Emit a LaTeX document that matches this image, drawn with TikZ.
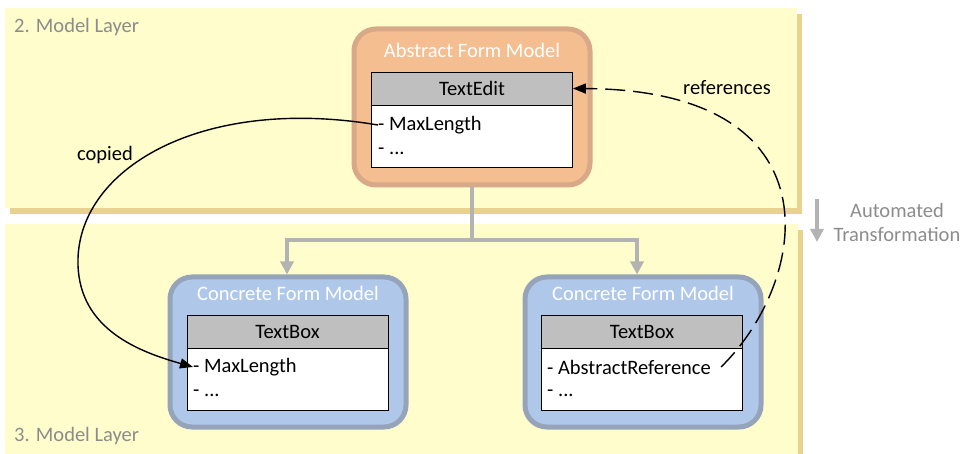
\documentclass[tikz,border=0pt]{standalone}
\usepackage{fontspec}
\setmainfont{Carlito}
\usetikzlibrary{arrows.meta}
\definecolor{bandyellow}{HTML}{FFFDCC}
\definecolor{bandtan}{HTML}{E8D28E}
\definecolor{orfill}{HTML}{F4BE91}
\definecolor{ordraw}{HTML}{D8A988}
\definecolor{blfill}{HTML}{AFC8EA}
\definecolor{bldraw}{HTML}{95A4BA}
\definecolor{hdgray}{HTML}{BFBFBF}
\definecolor{arrgray}{HTML}{B3B3B3}
\definecolor{txtgray}{HTML}{8C8C8C}
\tikzset{
  every node/.style={font=\fontsize{20.5}{24}\selectfont, inner sep=0pt},
  modelbox/.style={rounded corners=22pt, line width=5pt, minimum width=236pt, minimum height=156pt},
  absbox/.style={modelbox, fill=orfill, draw=ordraw},
  conbox/.style={modelbox, fill=blfill, draw=bldraw, minimum height=150pt},
  title/.style={text=white},
  header/.style={draw=black, line width=0.8pt, fill=hdgray, minimum width=201pt, minimum height=33pt},
  body/.style={draw=black, line width=0.8pt, fill=white, minimum width=201pt, minimum height=62pt},
  attr/.style={anchor=west, text=black},
  grayarrow/.style={draw=arrgray, line width=4.5pt, -{Triangle[length=13pt,width=13pt]}},
  grayline/.style={draw=arrgray, line width=4.5pt},
  blackarrow/.style={draw=black, line width=1.4pt, -{Triangle[length=13pt,width=10pt]}},
  layerlabel/.style={text=txtgray, anchor=west}
}
\begin{document}
\begin{tikzpicture}[x=1pt,y=-1pt]
\useasboundingbox (0,0) rectangle (967,454);
% layer bands
\fill[bandtan] (10,14) rectangle (802,214);
\fill[bandyellow] (5,8) rectangle (797,208);
\fill[bandtan] (10,230) rectangle (803,460);
\fill[bandyellow] (5,224) rectangle (798,460);
\node[layerlabel] (l2) at (14,27) {2. Model Layer};
\node[layerlabel] (l3) at (14,436) {3. Model Layer};

% abstract model
\node[absbox] (absm) at (472,107) {};
\node[title] (abst) at (472,50) {Abstract Form Model};
\node[header] (abshead) at (472,88.5) {TextEdit};
\node[body] (absbody) at (472,136) {};
\node[attr] (absml) at (378,125) {- MaxLength};
\node[attr] (absdots) at (378,151) {- ...};

% concrete left
\node[conbox] (lcm) at (288,352) {};
\node[title] (lct) at (288,293) {Concrete Form Model};
\node[header] (lhead) at (287.5,331.5) {TextBox};
\node[body] (lbody) at (287.5,379) {};
\node[attr] (lml) at (193,367) {- MaxLength};
\node[attr] (ldots) at (193,393) {- ...};

% concrete right
\node[conbox] (rcm) at (643,352) {};
\node[title] (rct) at (643,293) {Concrete Form Model};
\node[header] (rhead) at (642,331.5) {TextBox};
\node[body] (rbody) at (642,379) {};
\node[attr] (rar) at (547,367) {- AbstractReference};
\node[attr] (rdots) at (547,393) {- ...};

% transformation connectors
\coordinate (junc) at (472,240);
\coordinate (jl) at (287,240);
\coordinate (jr) at (637,240);
\draw[grayline] (absm.south) -- (junc);
\draw[grayline, line cap=rect] (jl) -- (jr);
\draw[grayarrow] (jl) -- (jl |- lcm.north);
\draw[grayarrow] (jr) -- (jr |- rcm.north);

% automated transformation
\coordinate (ata) at (817,199);
\coordinate (atb) at (817,242);
\draw[grayarrow] (ata) -- (atb);
\node[text=txtgray] (at1) at (897,210) {Automated};
\node[text=txtgray] (at2) at (897,234) {Transformation};

% copied
\draw[blackarrow] (absml.west) .. controls (200,95) and (75,170) .. (78,265)
  .. controls (80,330) and (140,352) .. (lml.west);
\node (cop) at (105,155) {copied};

% references
\draw[blackarrow, dash pattern=on 20pt off 8pt] ([xshift=10pt]rar.east) .. controls (810,280) and (840,90) .. (abshead.east);
\node (ref) at (727,88) {references};
\end{tikzpicture}
\end{document}
